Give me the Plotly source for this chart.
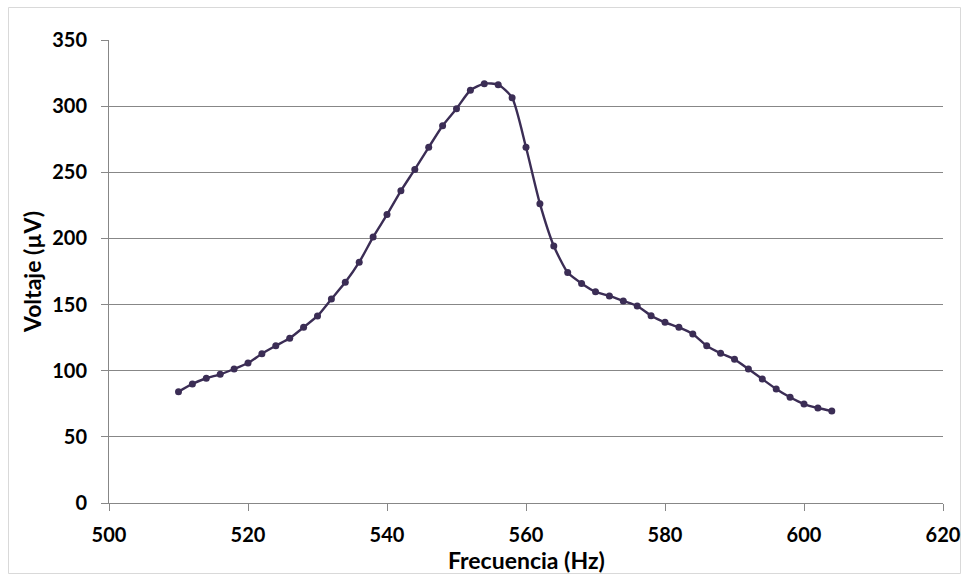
import plotly.graph_objects as go

freq = [510, 512, 514, 516, 518, 520, 522, 524, 526, 528, 530, 532, 534, 536, 538, 540,
        542, 544, 546, 548, 550, 552, 554, 556, 558, 560, 562, 564, 566, 568, 570, 572,
        574, 576, 578, 580, 582, 584, 586, 588, 590, 592, 594, 596, 598, 600, 602, 604]
voltage = [84.1, 90, 94.3, 97.3, 101.3, 105.8, 112.9, 118.9, 124.5, 132.8, 141.4, 154.2,
           166.8, 182, 201, 218, 236, 252.2, 268.9, 285.2, 298.1, 312, 317, 316.2,
           306.4, 268.9, 226.3, 194.3, 174.2, 166, 159.7, 156.5, 152.7, 148.9, 141.6,
           136.6, 132.8, 127.8, 118.9, 113.2, 108.6, 101.3, 93.7, 86.2, 79.9, 74.8, 71.8, 69.5]

x_ticks = [500, 520, 540, 560, 580, 600, 620]
y_ticks = [0, 50, 100, 150, 200, 250, 300, 350]
x_title = "Frecuencia (Hz)"
y_title = "Voltaje (µV)"

W, H = 962, 575
L, R, T, B = 109, 19, 40, 72
pw, ph = W - L - R, H - T - B

line_color = "#3b2d55"
grid_color = "#878787"
font_family = "Lato, 'Open Sans', sans-serif"
fs = 20
tfs = 23

fig = go.Figure()
fig.add_trace(go.Scatter(
    x=freq, y=voltage, mode="lines+markers",
    line=dict(color=line_color, width=2.4, shape="spline", smoothing=0.6),
    marker=dict(color=line_color, size=7),
    showlegend=False,
))

fig.update_layout(
    width=W, height=H,
    margin=dict(l=L, r=R, t=T, b=B, autoexpand=False),
    paper_bgcolor="white", plot_bgcolor="white",
    font=dict(family=font_family, color="black", size=fs),
    xaxis=dict(
        range=[500, 620], tickvals=x_ticks, ticktext=[str(v) for v in x_ticks],
        showgrid=False, zeroline=False, showline=True, linecolor=grid_color, linewidth=1,
        ticks="outside", ticklen=7, tickcolor=grid_color, ticklabelstandoff=7,
        tickfont=dict(family=font_family, size=fs, color="black", weight="bold"),
    ),
    yaxis=dict(
        range=[0, 350], tickvals=y_ticks, ticktext=[str(v) for v in y_ticks],
        showgrid=True, gridcolor=grid_color, gridwidth=1, zeroline=False,
        showline=True, linecolor=grid_color, linewidth=1,
        ticks="outside", ticklen=7, tickcolor=grid_color, ticklabelstandoff=10,
        tickfont=dict(family=font_family, size=fs, color="black", weight="bold"),
        title=dict(text=y_title, standoff=4,
                   font=dict(family=font_family, size=tfs, color="black", weight="bold")),
    ),
    annotations=[dict(
        text=x_title, xref="paper", yref="paper", x=0.5, y=0,
        xanchor="center", yanchor="middle", yshift=-57, showarrow=False,
        font=dict(family=font_family, size=tfs, color="black", weight="bold"),
    )],
)

# outer chart border
fig.add_shape(type="rect", xref="paper", yref="paper",
              x0=(8.5 - L) / pw, x1=(W - 1.5 - L) / pw,
              y0=-(H - 1.5 - T - ph) / ph, y1=1 + (T - 7.5) / ph,
              line=dict(color="#d9d9d9", width=1), layer="below")

fig.write_html(
    "out.html",
    config={"displayModeBar": False},
    post_script="document.body.style.margin='0';document.body.style.overflow='hidden';",
)
